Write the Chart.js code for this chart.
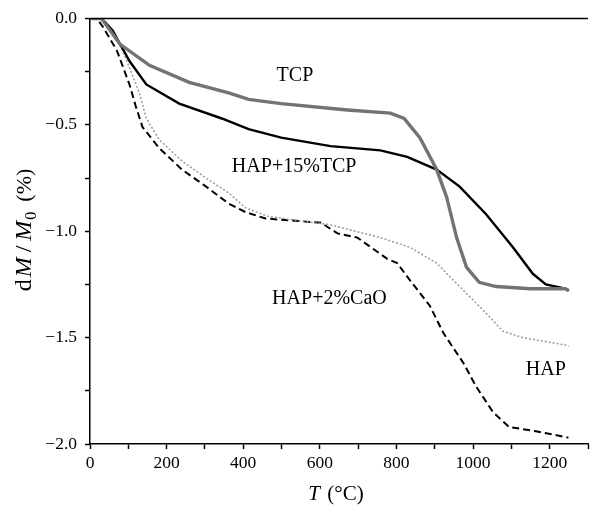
<!doctype html>
<html>
<head>
<meta charset="utf-8">
<title>dM/M0 vs T</title>
<script src="https://cdn.jsdelivr.net/npm/chart.js"></script>
<style>
  html, body { margin: 0; padding: 0; background: #fff; }
  #wrap { width: 592px; height: 513px; position: relative; }
</style>
</head>
<body>
<div id="wrap"><canvas id="myChart"></canvas></div>
<script>
// temperatures (°C) and relative mass change (%)
var tcpT = [0, 30, 34, 78, 155, 259, 362, 414, 499, 672, 784, 820, 861, 905, 931, 957, 983, 1016, 1060, 1150, 1241, 1250];
var tcpM = [0, 0, -0.01, -0.12, -0.22, -0.30, -0.35, -0.38, -0.40, -0.43, -0.445, -0.47, -0.56, -0.71, -0.84, -1.03, -1.17, -1.24, -1.26, -1.27, -1.27, -1.28];

var mixT = [0, 30, 59, 103, 147, 233, 344, 414, 499, 628, 758, 828, 905, 965, 1034, 1104, 1156, 1190, 1241, 1250];
var mixM = [0, 0, -0.056, -0.20, -0.31, -0.40, -0.47, -0.52, -0.56, -0.60, -0.62, -0.65, -0.71, -0.79, -0.92, -1.075, -1.20, -1.25, -1.27, -1.28];

var hapT = [0, 25, 44, 85, 129, 147, 181, 240, 303, 362, 406, 465, 628, 758, 835, 905, 965, 1034, 1078, 1130, 1241, 1250];
var hapM = [0, 0, -0.02, -0.15, -0.35, -0.47, -0.57, -0.67, -0.75, -0.82, -0.89, -0.93, -0.97, -1.03, -1.075, -1.15, -1.26, -1.385, -1.47, -1.50, -1.535, -1.54];

var caoT = [0, 18, 34, 70, 103, 119, 137, 181, 240, 303, 362, 406, 458, 603, 646, 698, 776, 802, 835, 887, 923, 975, 1008, 1052, 1094, 1164, 1249];
var caoM = [0, 0, -0.04, -0.15, -0.31, -0.41, -0.51, -0.61, -0.71, -0.79, -0.87, -0.91, -0.94, -0.96, -1.01, -1.03, -1.13, -1.15, -1.23, -1.35, -1.48, -1.62, -1.73, -1.85, -1.92, -1.94, -1.97];

var curveNames = ['TCP', 'HAP+15%TCP', 'HAP', 'HAP+2%CaO'];
// where the curve names sit, in data units
var nameT = [535, 533, 1190, 625];
var nameM = [-0.268, -0.695, -1.65, -1.315];

function pts(t, m) {
  return t.map(function (v, i) { return { x: v, y: m[i] }; });
}

var serif = '"Liberation Serif", "DejaVu Serif", serif';

var textPlugin = {
  id: 'texts',
  afterDraw: function (chart) {
    var ctx = chart.ctx;
    var a = chart.chartArea;
    var x = chart.scales.x, y = chart.scales.y;
    ctx.save();
    // top frame line
    ctx.strokeStyle = '#000';
    ctx.lineWidth = 1.5;
    ctx.beginPath();
    ctx.moveTo(a.left, a.top);
    ctx.lineTo(a.right, a.top);
    ctx.stroke();

    ctx.fillStyle = '#000';
    ctx.textAlign = 'center';
    ctx.textBaseline = 'middle';
    ctx.font = '20px ' + serif;
    for (var i = 0; i < curveNames.length; i++) {
      ctx.fillText(curveNames[i], x.getPixelForValue(nameT[i]), y.getPixelForValue(nameM[i]));
    }

    // x title: T (°C)
    ctx.textAlign = 'left';
    ctx.textBaseline = 'alphabetic';
    var partsX = [['T', 'italic 21px ', 0], [' (\u00b0C)', '21px ', 2]];
    var w = 0;
    partsX.forEach(function (p) { ctx.font = p[1] + serif; w += ctx.measureText(p[0]).width + p[2]; });
    var cx = 336 - w / 2;
    partsX.forEach(function (p) { ctx.font = p[1] + serif; cx += p[2]; ctx.fillText(p[0], cx, 500); cx += ctx.measureText(p[0]).width; });

    // y title: dM/M0 (%)
    ctx.translate(31, 230);
    ctx.rotate(-Math.PI / 2);
    var partsY = [['d', '24px ', 0, 0], ['M', 'italic 24px ', 0, 2], ['/', '24px ', 0, 5], ['M', 'italic 24px ', 0, 5], ['0', '16px ', 5, 1], ['(%)', '22px ', 0, 10]];
    w = 0;
    partsY.forEach(function (p) { ctx.font = p[1] + serif; w += ctx.measureText(p[0]).width + p[3]; });
    cx = -w / 2;
    partsY.forEach(function (p) { ctx.font = p[1] + serif; cx += p[3]; ctx.fillText(p[0], cx, p[2]); cx += ctx.measureText(p[0]).width; });
    ctx.restore();
  }
};

new Chart(document.getElementById('myChart'), {
  type: 'line',
  data: {
    datasets: [
      { label: 'TCP', data: pts(tcpT, tcpM), borderColor: '#737373', borderWidth: 3.4 },
      { label: 'TCP core', data: pts(tcpT, tcpM), borderColor: '#dcdcdc', borderWidth: 1.1, borderDash: [2, 1] },
      { label: 'HAP+15%TCP', data: pts(mixT, mixM), borderColor: '#000', borderWidth: 2.4 },
      { label: 'HAP', data: pts(hapT, hapM), borderColor: '#9a9a9a', borderWidth: 1.5, borderDash: [2, 2] },
      { label: 'HAP+2%CaO', data: pts(caoT, caoM), borderColor: '#000', borderWidth: 2, borderDash: [7, 4] }
    ]
  },
  options: {
    responsive: true,
    maintainAspectRatio: false,
    animation: false,
    layout: { padding: { top: 18, right: -5, left: 0, bottom: 0 } },
    elements: { point: { radius: 0 }, line: { tension: 0 } },
    plugins: { legend: { display: false }, tooltip: { enabled: false } },
    scales: {
      x: {
        type: 'linear',
        min: 0,
        max: 1300,
        afterFit: function (s) { s.height = 69; },
        border: { color: '#000', width: 1.5 },
        grid: { drawOnChartArea: false, drawTicks: true, tickLength: 5, color: '#000', tickWidth: 1.5 },
        ticks: {
          stepSize: 100,
          padding: 4,
          color: '#000',
          maxRotation: 0,
          autoSkip: false,
          font: { family: serif, size: 17.5 },
          callback: function (v) { return (v % 200 === 0 && v <= 1200) ? String(v) : ''; }
        }
      },
      y: {
        min: -2,
        max: 0,
        afterFit: function (s) { s.width = 90; },
        border: { color: '#000', width: 1.5 },
        grid: { drawOnChartArea: false, drawTicks: true, tickLength: 5, color: '#000', tickWidth: 1.5 },
        ticks: {
          stepSize: 0.25,
          padding: 8,
          color: '#000',
          autoSkip: false,
          font: { family: serif, size: 17.5 },
          callback: function (v) {
            if (Math.abs(v * 2 - Math.round(v * 2)) > 1e-6) return '';
            if (v === 0) return '0.0';
            return '\u2212' + Math.abs(v).toFixed(1);
          }
        }
      }
    }
  },
  plugins: [textPlugin]
});
</script>
</body>
</html>
